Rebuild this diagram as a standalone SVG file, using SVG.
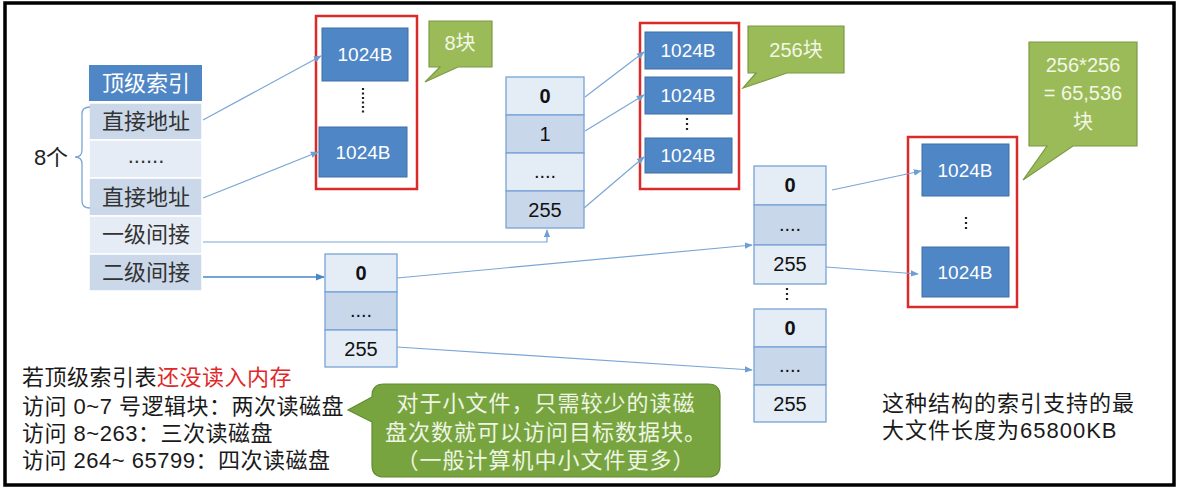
<svg xmlns="http://www.w3.org/2000/svg" width="1181" height="492" viewBox="0 0 1181 492">
<defs>
<marker id="ah" viewBox="0 0 10 10" refX="9" refY="5" markerWidth="8" markerHeight="8" markerUnits="userSpaceOnUse" orient="auto"><path d="M0,1 L10,5 L0,9 Z" fill="#6f9fd2"/></marker>
<marker id="ah2" viewBox="0 0 10 10" refX="9" refY="5" markerWidth="9" markerHeight="9" markerUnits="userSpaceOnUse" orient="auto"><path d="M0,1 L10,5 L0,9 Z" fill="#4a86c8"/></marker>
<style>
text{font-family:"Liberation Sans","Noto Sans CJK SC",sans-serif;}
.hdr{fill:#4f86c6;}
.rd{fill:#cbd8ea;stroke:#fff;stroke-width:1.5;}
.rl{fill:#e6ecf5;stroke:#fff;stroke-width:1.5;}
.cd{fill:#c9d7ea;stroke:#78a4d6;stroke-width:1.3;}
.cl{fill:#e4ecf6;stroke:#78a4d6;stroke-width:1.3;}
.blk{fill:#4f86c6;stroke:#3f6fa6;stroke-width:1;}
.red{fill:none;stroke:#db2a2a;stroke-width:2.5;}
.bt{font-size:19px;fill:#ffffff;text-anchor:middle;}
.lt{font-size:22px;fill:#333;text-anchor:middle;}
.nt{font-size:20px;fill:#111;text-anchor:middle;}
.nb{font-size:20px;fill:#111;text-anchor:middle;font-weight:bold;}
.gc{fill:#9bbb59;stroke:#7b9a45;stroke-width:1.2;}
.gt{font-size:20px;fill:#f2f7e6;text-anchor:middle;}
.gt2{font-size:22px;fill:#eef5e4;text-anchor:middle;letter-spacing:1px;}
.con{fill:none;stroke:#7aa6d6;stroke-width:1.2;}
.dots{stroke:#222;stroke-width:2.2;stroke-dasharray:2 2.5;}
.bl{font-size:22px;fill:#1a1a1a;letter-spacing:0.5px;}
</style>
</defs>
<rect x="5" y="3" width="1169" height="482" fill="#fff" stroke="#000" stroke-width="3.5"/>

<g id="top-index">
<rect class="hdr" x="89" y="65" width="113" height="36"/>
<text class="bt" x="146" y="91" style="font-size:22px">顶级索引</text>
<rect class="rd" x="89" y="103" width="113" height="37"/>
<text class="lt" x="146" y="129">直接地址</text>
<rect class="rl" x="89" y="140" width="113" height="38"/>
<text class="lt" x="146" y="163">......</text>
<rect class="rd" x="89" y="178" width="113" height="38"/>
<text class="lt" x="146" y="205">直接地址</text>
<rect class="rl" x="89" y="216" width="113" height="38"/>
<text class="lt" x="146" y="242">一级间接</text>
<rect class="rd" x="89" y="254" width="113" height="37"/>
<text class="lt" x="146" y="280">二级间接</text>
</g>

<g id="brace">
<path d="M90,107 Q82,107 82,114 V150 Q82,157 75,157 Q82,157 82,164 V201 Q82,208 90,208" fill="none" stroke="#7aa6d6" stroke-width="1.3"/>
<text class="lt" x="51" y="165" style="fill:#222">8个</text>
</g>

<g id="direct-blocks">
<rect class="red" x="316" y="16" width="101" height="173"/>
<rect class="blk" x="322" y="28" width="86" height="53"/>
<text class="bt" x="365" y="61">1024B</text>
<line class="dots" x1="363" y1="88" x2="363" y2="115"/>
<rect class="blk" x="319" y="127" width="88" height="50"/>
<text class="bt" x="363" y="159">1024B</text>
</g>

<g id="callout-8">
<path class="gc" d="M429,21 H492 V67 H458 L425,82 L440,67 H429 Z"/>
<text class="gt" x="460" y="50">8块</text>
</g>

<g id="single-index">
<rect class="cl" x="506" y="77" width="78" height="38"/>
<text class="nb" x="545" y="103">0</text>
<rect class="cd" x="506" y="115" width="78" height="38"/>
<text class="nt" x="545" y="141">1</text>
<rect class="cl" x="506" y="153" width="78" height="38"/>
<text class="nt" x="545" y="178">....</text>
<rect class="cd" x="506" y="191" width="78" height="37"/>
<text class="nt" x="545" y="217">255</text>
</g>

<g id="single-blocks">
<rect class="red" x="640" y="23" width="99" height="166"/>
<rect class="blk" x="645" y="32" width="87" height="37"/>
<text class="bt" x="688" y="57">1024B</text>
<rect class="blk" x="645" y="77" width="87" height="37"/>
<text class="bt" x="688" y="102">1024B</text>
<line class="dots" x1="687" y1="118" x2="687" y2="133" style="stroke-dasharray:2 3"/>
<rect class="blk" x="645" y="138" width="87" height="35"/>
<text class="bt" x="688" y="162">1024B</text>
</g>

<g id="callout-256">
<path class="gc" d="M748,26 H844 V73 H787 L743,88 L756,73 H748 Z"/>
<text class="gt" x="796" y="57">256块</text>
</g>

<g id="double-index-a">
<rect class="cl" x="325" y="254" width="72" height="38"/>
<text class="nb" x="361" y="280">0</text>
<rect class="cd" x="325" y="292" width="72" height="38"/>
<text class="nt" x="361" y="317">....</text>
<rect class="cl" x="325" y="330" width="72" height="37"/>
<text class="nt" x="361" y="356">255</text>
</g>

<g id="double-index-b">
<rect class="cl" x="754" y="166" width="72" height="39"/>
<text class="nb" x="790" y="192">0</text>
<rect class="cd" x="754" y="205" width="72" height="40"/>
<text class="nt" x="790" y="231">....</text>
<rect class="cl" x="754" y="245" width="72" height="39"/>
<text class="nt" x="790" y="271">255</text>
<line class="dots" x1="787" y1="288" x2="787" y2="303" style="stroke-dasharray:2 3"/>
<rect class="cl" x="754" y="309" width="72" height="38"/>
<text class="nb" x="790" y="335">0</text>
<rect class="cd" x="754" y="347" width="72" height="38"/>
<text class="nt" x="790" y="372">....</text>
<rect class="cl" x="754" y="385" width="72" height="37"/>
<text class="nt" x="790" y="411">255</text>
</g>

<g id="double-blocks">
<rect class="red" x="908" y="137" width="109" height="170"/>
<rect class="blk" x="922" y="144" width="87" height="52"/>
<text class="bt" x="965" y="177">1024B</text>
<line class="dots" x1="966" y1="217" x2="966" y2="232" style="stroke-dasharray:2 3"/>
<rect class="blk" x="922" y="247" width="87" height="50"/>
<text class="bt" x="965" y="279">1024B</text>
</g>

<g id="callout-65536">
<path class="gc" d="M1029,42 H1137 V146 H1073 L1023,180 L1047,146 H1029 Z"/>
<text class="gt" x="1083" y="72">256*256</text>
<text class="gt" x="1083" y="100">= 65,536</text>
<text class="gt" x="1083" y="129">块</text>
</g>

<g id="connectors">
<line class="con" x1="203" y1="120" x2="321" y2="56" marker-end="url(#ah)"/>
<line class="con" x1="203" y1="198" x2="318" y2="152" marker-end="url(#ah)"/>
<polyline class="con" points="203,242 547,242 547,230" marker-end="url(#ah)"/>
<line x1="203" y1="277" x2="324" y2="277" stroke="#4a86c8" stroke-width="1.6" marker-end="url(#ah2)"/>
<line class="con" x1="585" y1="97" x2="644" y2="52" marker-end="url(#ah)"/>
<line class="con" x1="585" y1="131" x2="644" y2="95" marker-end="url(#ah)"/>
<line class="con" x1="584" y1="208" x2="644" y2="157" marker-end="url(#ah)"/>
<line class="con" x1="397" y1="278" x2="752" y2="245" marker-end="url(#ah)"/>
<line class="con" x1="397" y1="347" x2="752" y2="370" marker-end="url(#ah)"/>
<line class="con" x1="832" y1="190" x2="921" y2="171" marker-end="url(#ah)"/>
<line class="con" x1="826" y1="267" x2="918" y2="274" marker-end="url(#ah)"/>
</g>

<g id="access-notes">
<text class="bl" x="22" y="385">若顶级索引表<tspan fill="#e0282b">还没读入内存</tspan></text>
<text class="bl" x="22" y="414">访问 0~7 号逻辑块：两次读磁盘</text>
<text class="bl" x="22" y="441">访问 8~263：三次读磁盘</text>
<text class="bl" x="22" y="468">访问 264~ 65799：四次读磁盘</text>
</g>

<g id="callout-small-files">
<path d="M384,384 H708 Q720,384 720,396 V465 Q720,477 708,477 H384 Q372,477 372,465 V422 L348,410 L372,397 V396 Q372,384 384,384 Z" fill="#77a43e" stroke="#5f8b30" stroke-width="1.2"/>
<text class="gt2" x="546" y="411">对于小文件，只需较少的读磁</text>
<text class="gt2" x="546" y="440">盘次数就可以访问目标数据块。</text>
<text class="gt2" x="546" y="468">（一般计算机中小文件更多）</text>
</g>

<g id="max-size-note">
<text class="bl" x="882" y="411" style="letter-spacing:1px">这种结构的索引支持的最</text>
<text class="bl" x="882" y="438" style="letter-spacing:1px">大文件长度为65800KB</text>
</g>
</svg>
